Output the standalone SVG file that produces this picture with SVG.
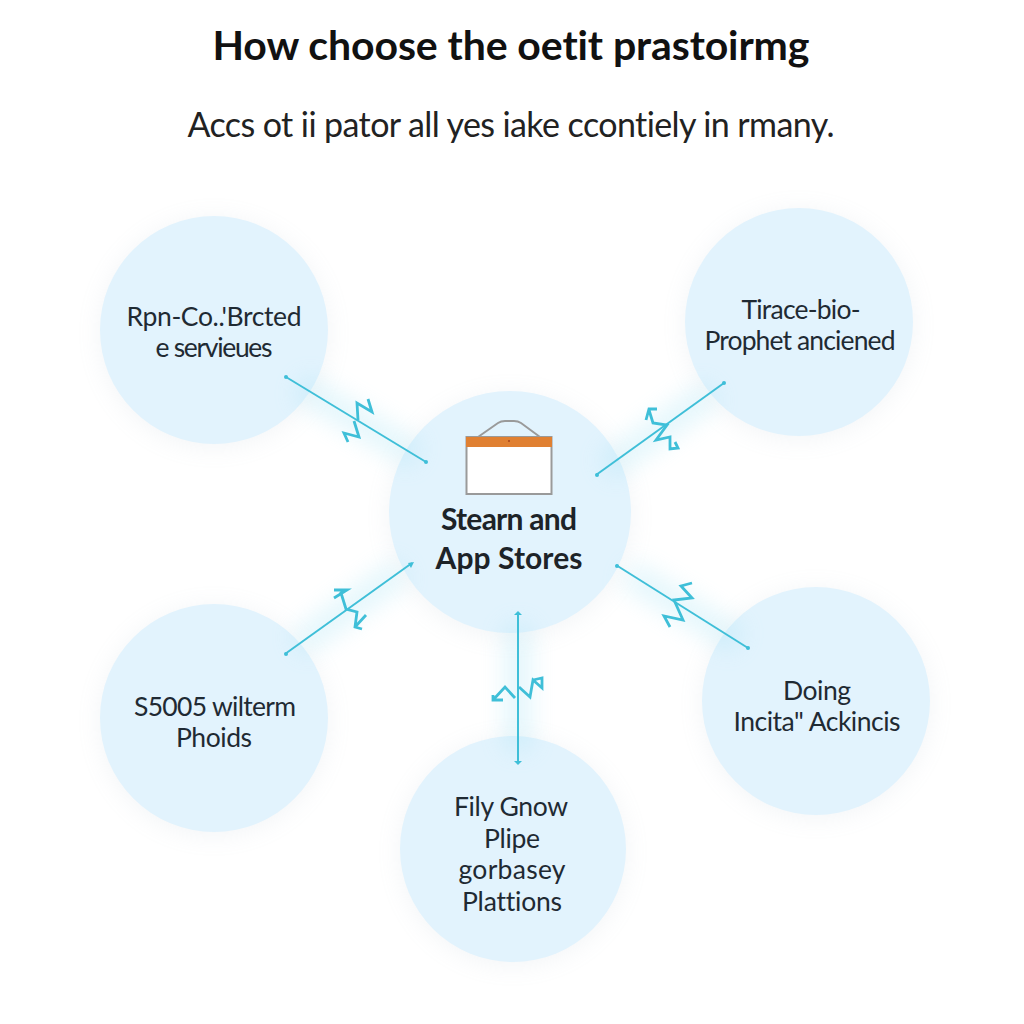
<svg xmlns="http://www.w3.org/2000/svg" width="1024" height="1024" viewBox="0 0 1024 1024">
<style>
text{font-family:Lato,"Open Sans","Liberation Sans",sans-serif;text-anchor:middle;fill:#222;font-variant-ligatures:none;}
.t{font-size:41px;font-weight:700;fill:#111;}
.s{font-size:34px;fill:#222;}
.n{font-size:26.500px;fill:#1f2a33;}
.c{font-size:30px;font-weight:700;fill:#1d2328;}
.disc{fill:#e2f3fd;}
.halo{fill:#9fb0c0;opacity:.13;filter:url(#soft);}
.glow{stroke:#8fdcf2;stroke-width:26;opacity:.26;fill:none;filter:url(#soft);}
.link{stroke:#3fbfd8;stroke-width:2;fill:none;}
.zig{stroke:#3fbfd8;stroke-width:2.800;fill:none;stroke-linejoin:miter;}
.end{fill:#3fbfd8;}
</style>
<defs>
<filter id="soft" x="-40%" y="-40%" width="180%" height="180%"><feGaussianBlur stdDeviation="12"/></filter>
</defs>
<rect width="1024" height="1024" fill="#fff"/>
<text class="t" x="511" y="60" textLength="597" lengthAdjust="spacing">How choose the oetit prastoirmg</text>
<text class="s" x="511" y="137" textLength="647" lengthAdjust="spacing">Accs ot ii pator all yes iake ccontiely in rmany.</text>
<g id="halos">
<circle class="halo" cx="214" cy="333" r="114"/><circle class="halo" cx="799" cy="325" r="114"/><circle class="halo" cx="510" cy="516" r="121"/><circle class="halo" cx="214" cy="721" r="114"/><circle class="halo" cx="816" cy="704" r="114"/><circle class="halo" cx="513" cy="852" r="113"/>
</g>
<g id="node-top-left"><circle class="disc" cx="214" cy="330" r="114"/>
<text class="n" x="214" y="326" textLength="175" lengthAdjust="spacing">Rpn-Co..'Brcted</text><text class="n" x="214" y="357" textLength="117" lengthAdjust="spacing">e servieues</text></g>
<g id="node-top-right"><circle class="disc" cx="799" cy="322" r="114"/>
<text class="n" x="801" y="319" textLength="119" lengthAdjust="spacing">Tirace-bio-</text><text class="n" x="800" y="350" textLength="191" lengthAdjust="spacing">Prophet anciened</text></g>
<g id="node-center"><circle class="disc" cx="510" cy="512" r="121"/>
<path d="M478,437 L498,423 Q501,421 505,421 L514,421 Q518,421 521,423 L540,437" fill="none" stroke="#9a9a9a" stroke-width="2"/>
<rect x="466.500" y="437" width="85" height="57" fill="#fff" stroke="#9a9a9a" stroke-width="2"/>
<rect x="466" y="437" width="86" height="10" fill="#e08032"/>
<circle cx="509" cy="441" r="1" fill="#a5401a"/>
<text class="c" x="509" y="530" textLength="136" lengthAdjust="spacing">Stearn and</text><text class="c" x="509" y="569" textLength="147" lengthAdjust="spacing">App Stores</text></g>
<g id="node-bottom-left"><circle class="disc" cx="214" cy="718" r="114"/>
<text class="n" x="215" y="716" textLength="162" lengthAdjust="spacing">S5005 wilterm</text><text class="n" x="214" y="747" textLength="76" lengthAdjust="spacing">Phoids</text></g>
<g id="node-bottom-right"><circle class="disc" cx="816" cy="701" r="114"/>
<text class="n" x="817" y="700" textLength="68" lengthAdjust="spacing">Doing</text><text class="n" x="817" y="731" textLength="167" lengthAdjust="spacing">Incita" Ackincis</text></g>
<g id="node-bottom"><circle class="disc" cx="513" cy="849" r="113"/>
<text class="n" x="511" y="816" textLength="114" lengthAdjust="spacing">Fily Gnow</text><text class="n" x="512" y="848" textLength="56" lengthAdjust="spacing">Plipe</text><text class="n" x="512" y="879" textLength="107" lengthAdjust="spacing">gorbasey</text><text class="n" x="512" y="911" textLength="100" lengthAdjust="spacing">Plattions</text></g>
<g id="connectors">
<path class="glow" d="M300,386 L416,456 M712,392 L606,468 M298,645 L402,570 M628,573 L738,641 M518,625 L518,750"/>
<path class="link" d="M286,377 L426,462"/>
<path class="zig" d="M368,399 L372,412 L357,403 L358,420 M354,421 L359,437 L344,433 L348,442"/>
<circle class="end" cx="286" cy="377" r="2"/><circle class="end" cx="426" cy="462" r="2"/>
<path class="link" d="M724,383 L596,475"/>
<path class="zig" d="M646,420 L649,409 L657,409 M649,410 L653,423 L667,425 L656,440 L670,437 L670,449 L678,448 L675,442"/>
<circle class="end" cx="724" cy="383" r="2"/><circle class="end" cx="597" cy="475" r="2"/>
<path class="link" d="M285,654 L412,563"/>
<path class="zig" d="M334,598 L347,590 L334,590 M347,590 L341,593 L346,609 L357,612 L355,627 L362,629 M355,627 L366,615"/>
<circle class="end" cx="286" cy="654" r="2"/><path class="end" d="M414,562 L408,563 L411,568Z"/>
<path class="link" d="M616,565 L748,648"/>
<path class="zig" d="M692,583 L681,586 L692,598 L674,600 L683,620 L664,616 L670,627"/>
<circle class="end" cx="617" cy="566" r="2"/><circle class="end" cx="748" cy="648" r="2"/>
<path class="link" d="M518,612 L518,763"/>
<path class="zig" d="M503,700 L493,700 L493,695 M493,700 L505,687 L515,698 M519,687 L530,697 L533,680 L542,688 L542,678 L533,680"/>
<path class="end" d="M518,611 L514,615 L522,615Z"/><path class="end" d="M518,765 L514,761 L522,761Z"/>
</g>
</svg>
